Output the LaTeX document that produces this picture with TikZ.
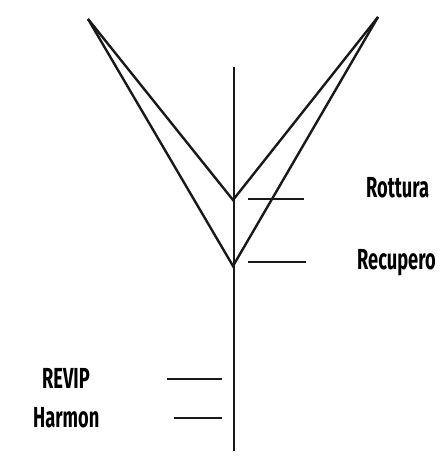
\documentclass[tikz,border=0pt]{standalone}
\usepackage{fontspec}
\newfontfamily\labelfont[FakeStretch=0.63]{Fira Sans}
\usetikzlibrary{positioning}

\begin{document}
\begin{tikzpicture}[
    x=1pt, y=-1pt,
    stroke/.style={line width=2.4pt, black!90},
    tickmark/.style={line width=2.4pt, black!90},
    label/.style={font=\labelfont\fontsize{29}{29}\selectfont\bfseries, inner sep=0pt}
]
\useasboundingbox (0,0) rectangle (446,462);
% points of the V and the axis
\coordinate (lefttop) at (88,19);
\coordinate (righttop) at (378,17);
\coordinate (upper) at (233,200);
\coordinate (lower) at (233,266);
\coordinate (axistop) at (234,67);
\coordinate (axisbot) at (234,451);

\draw[stroke] (axistop) -- (axisbot);
\draw[stroke] (lefttop) -- (upper) -- (righttop);
\draw[stroke] (lefttop) -- (lower) -- (righttop);

% tick marks with their labels
\coordinate (rotA) at (248,199);
\coordinate (rotB) at (304,199);
\coordinate (recA) at (248,262);
\coordinate (recB) at (306,262);
\coordinate (revA) at (167,379);
\coordinate (revB) at (222,379);
\coordinate (harA) at (174,418);
\coordinate (harB) at (222,418);
\draw[tickmark] (rotA) -- (rotB);
\draw[tickmark] (recA) -- (recB);
\draw[tickmark] (revA) -- (revB);
\draw[tickmark] (harA) -- (harB);

\node[label, anchor=base west] (rottura) at (366,197) {Rottura};
\node[label, anchor=base west] (recupero) at (357,269) {Recupero};
\node[label, anchor=base west] (revip) at (42,388) {REVIP};
\node[label, anchor=base west] (harmon) at (33,427) {Harmon};
\end{tikzpicture}
\end{document}
